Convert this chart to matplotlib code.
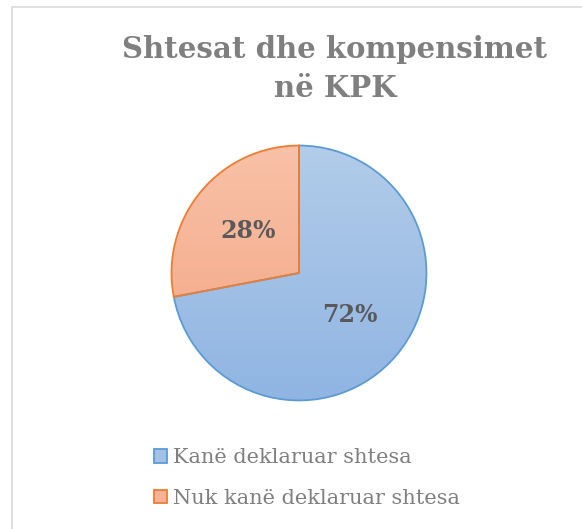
import numpy as np
import matplotlib
matplotlib.use("Agg")
import matplotlib.pyplot as plt
from matplotlib.patches import Patch, Rectangle
from matplotlib.colors import LinearSegmentedColormap

# data
labels = ["Kanë deklaruar shtesa", "Nuk kanë deklaruar shtesa"]
values = [72, 28]
title = "Shtesat dhe kompensimet\nnë KPK"

edge_colors = ["#5b9bd5", "#ed7d31"]
grad_colors = [("#8fb4e2", "#b3cdea"), ("#f4a37f", "#f8c2a9")]  # (bottom, top)
legend_face = ["#a3c1e7", "#f6b196"]

W, H = 582, 529
fig = plt.figure(figsize=(W / 100, H / 100), dpi=100)
serif = ["DejaVu Serif"]

# light grey border (top and left only visible)
fig.patches.append(Rectangle((12 / W, -0.1), 2, (1 - 7 / H) + 0.1, transform=fig.transFigure,
                             fill=False, edgecolor="#d9d9d9", lw=1.2))

fig.text(335 / W, 1 - 69 / H, title, ha="center", va="center", fontsize=21,
         fontweight="bold", color="#7f7f7f", family=serif, linespacing=1.4)

# pie axes: center (299, 273), radius 130 px
ax = fig.add_axes([169 / W, 1 - 403 / H, 260 / W, 260 / H])
wedges, texts, autotexts = ax.pie(values, startangle=90, counterclock=False,
                                  autopct=lambda p: f"{p:.0f}%", pctdistance=0.52,
                                  wedgeprops=dict(linewidth=1.3),
                                  textprops=dict(fontsize=17, fontweight="bold",
                                                 color="#595959", family=serif))
grad = np.linspace(0, 1, 256).reshape(-1, 1)
for w, ec, (c0, c1) in zip(wedges, edge_colors, grad_colors):
    w.set_facecolor("none")
    w.set_edgecolor(ec)
    w.set_zorder(3)
    cmap = LinearSegmentedColormap.from_list("g", [c0, c1])
    im = ax.imshow(grad, cmap=cmap, origin="lower", extent=[-1.05, 1.05, -1.05, 1.05],
                   aspect="auto", zorder=1)
    im.set_clip_path(w)
for t in autotexts:
    t.set_zorder(5)
ax.set_xlim(-1.02, 1.02)
ax.set_ylim(-1.02, 1.02)
ax.set_aspect("equal")
ax.axis("off")

handles = [Patch(facecolor=f, edgecolor=e, linewidth=1.3) for f, e in zip(legend_face, edge_colors)]
fig.legend(handles, labels, loc="upper left", bbox_to_anchor=(146 / W, 1 - 440 / H),
           frameon=False, handlelength=0.6, handleheight=0.6, handletextpad=0.3,
           labelspacing=1.05, borderaxespad=0,
           prop=dict(family=serif, size=15), labelcolor="#7f7f7f")

fig.savefig("out.png", dpi=100)
